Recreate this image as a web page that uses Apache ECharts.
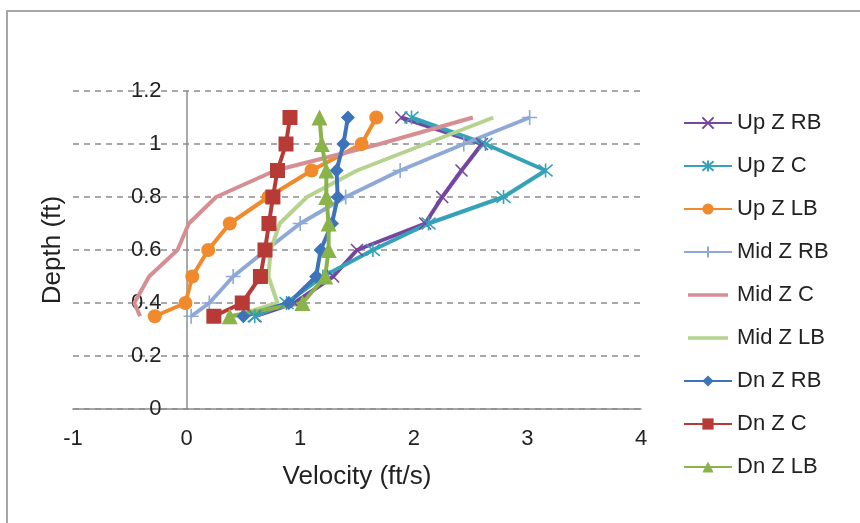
<!DOCTYPE html>
<html>
<head>
<meta charset="utf-8">
<script src="https://cdn.jsdelivr.net/npm/echarts@6/dist/echarts.min.js"></script>
<style>html,body{margin:0;padding:0;background:#fff}#c{width:860px;height:523px}</style>
</head>
<body>
<div id="c"></div>
<script>
var depths = [0.35, 0.4, 0.5, 0.6, 0.7, 0.8, 0.9, 1.0, 1.1];
var upZRB  = [0.6, 0.95, 1.29, 1.5, 2.1, 2.25, 2.42, 2.6, 1.89];
var upZC   = [0.6, 0.88, 1.2, 1.64, 2.13, 2.79, 3.16, 2.63, 1.98];
var upZLB  = [-0.28, -0.01, 0.05, 0.19, 0.38, 0.72, 1.1, 1.54, 1.67];
var midZRB = [0.04, 0.2, 0.41, 0.7, 1.0, 1.4, 1.88, 2.44, 3.02];
var midZC  = [-0.41, -0.46, -0.33, -0.08, 0.02, 0.26, 0.78, 1.7, 2.52];
var midZLB = [0.42, 0.8, 0.72, 0.74, 0.82, 1.06, 1.5, 2.1, 2.7];
var dnZRB  = [0.5, 0.9, 1.14, 1.18, 1.28, 1.33, 1.32, 1.38, 1.42];
var dnZC   = [0.24, 0.49, 0.65, 0.69, 0.725, 0.76, 0.8, 0.875, 0.91];
var dnZLB  = [0.38, 1.02, 1.22, 1.25, 1.25, 1.23, 1.23, 1.19, 1.17];
var seriesNames = ['Up Z RB','Up Z C','Up Z LB','Mid Z RB','Mid Z C','Mid Z LB','Dn Z RB','Dn Z C','Dn Z LB'];
var xTicks = {min: -1, max: 4, interval: 1};
var yTicks = {min: 0, max: 1.2, interval: 0.2};

var X_PATH = 'path://M0 0L10 10M10 0L0 10';
var AST_PATH = 'path://M0 0L10 10M10 0L0 10M5 -1L5 11';
var PLUS_PATH = 'path://M5 0L5 10M1 5L9 5';
var LINE_ICON = 'path://M0 0L0.01 0L0.01 0.01ZM40 14L39.99 14L39.99 13.99ZM0 5.2L40 5.2L40 8.8L0 8.8Z';

function pts(vs){ return vs.map(function(v,i){ return [v, depths[i]]; }); }
function mk(name, vals, color, symbol, size, stroke){
  return {
    name: name, type: 'line', data: pts(vals),
    symbol: symbol, symbolSize: size, showSymbol: symbol !== 'none',
    lineStyle: {color: color, width: 4},
    itemStyle: stroke ? {color: color, borderColor: color, borderWidth: 1.6} : {color: color},
    emphasis: {disabled: true},
    animation: false
  };
}

var chart = echarts.init(document.getElementById('c'));
var font = 'Liberation Sans, Arial, sans-serif';
var legendData = seriesNames.map(function(n){
  if (n === 'Mid Z C') return {name: n, icon: LINE_ICON, itemStyle: {color: '#d58f93'}};
  if (n === 'Mid Z LB') return {name: n, icon: LINE_ICON, itemStyle: {color: '#b5d38e'}};
  return {name: n};
});
// pixel distance from left edge of plot (x=-1) to x=0
var plotW = 860 - 73 - 219;
var zeroOffset = plotW * (0 - xTicks.min) / (xTicks.max - xTicks.min);
chart.setOption({
  backgroundColor: '#fff',
  animation: false,
  graphic: [{type: 'rect', shape: {x: 7, y: 11, width: 900, height: 600}, style: {fill: 'none', stroke: '#a6a6a6', lineWidth: 2}, silent: true}],
  grid: {left: 73, right: 219, top: 91, bottom: 114, containLabel: false, outerBoundsMode: 'none'},
  xAxis: {
    type: 'value', min: xTicks.min, max: xTicks.max, interval: xTicks.interval,
    name: 'Velocity (ft/s)', nameLocation: 'middle', nameGap: 55,
    nameTextStyle: {fontFamily: font, fontSize: 26, color: '#222'},
    axisLine: {show: true, onZero: false, lineStyle: {color: '#8c8c8c', width: 1.5}},
    axisTick: {show: false},
    splitLine: {show: false},
    axisLabel: {fontFamily: font, fontSize: 22, color: '#222', margin: 19}
  },
  yAxis: {
    type: 'value', min: yTicks.min, max: yTicks.max, interval: yTicks.interval,
    offset: -zeroOffset,
    name: 'Depth (ft)', nameLocation: 'middle', nameGap: 121, nameRotate: 90,
    nameTextStyle: {fontFamily: font, fontSize: 26, color: '#222'},
    axisLine: {show: true, onZero: false, lineStyle: {color: '#8c8c8c', width: 1.5}},
    axisTick: {show: false},
    splitLine: {show: true, lineStyle: {color: '#8c8c8c', type: [6, 5], width: 1.5}},
    axisLabel: {fontFamily: font, fontSize: 22, color: '#222', margin: 25}
  },
  legend: {
    orient: 'vertical', left: 678, top: 107, itemGap: 21, itemWidth: 48, itemHeight: 14,
    textStyle: {fontFamily: font, fontSize: 22, color: '#222'},
    data: legendData
  },
  series: [
    mk('Up Z RB', upZRB, '#7446a0', X_PATH, 12, true),
    mk('Up Z C', upZC, '#35a2b8', AST_PATH, 14, true),
    mk('Up Z LB', upZLB, '#f08a2c', 'circle', 14, false),
    mk('Mid Z RB', midZRB, '#8fa9d6', PLUS_PATH, 15, true),
    mk('Mid Z C', midZC, '#d58f93', 'none', 0, false),
    mk('Mid Z LB', midZLB, '#b5d38e', 'none', 0, false),
    mk('Dn Z RB', dnZRB, '#3d73ba', 'diamond', 14, false),
    mk('Dn Z C', dnZC, '#b83a36', 'rect', 15, false),
    mk('Dn Z LB', dnZLB, '#8ab34a', 'triangle', 16, false)
  ]
});
</script>
</body>
</html>
